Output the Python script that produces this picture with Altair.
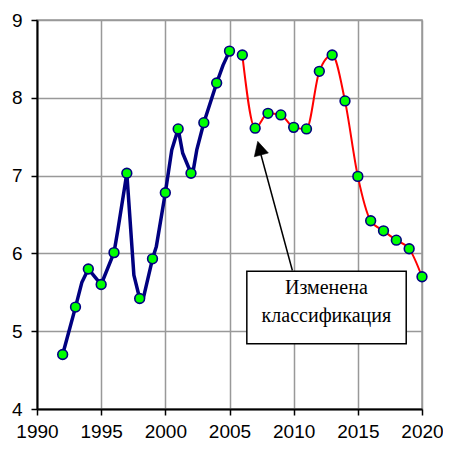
import altair as alt
import pandas as pd

# ---- data ----
blue_years = [1992, 1993, 1994, 1995, 1996, 1997, 1998, 1999, 2000, 2001, 2002, 2003, 2004, 2005]
blue_values = [4.70, 5.31, 5.80, 5.60, 6.01, 7.03, 5.42, 5.93, 6.78, 7.60, 7.03, 7.68, 8.19, 8.60]

# intermediate (unmarked) points on the blue line
blue_mid_years = [1993.5, 1996.3, 1997.55, 1998.25, 1999.3, 2000.5, 2001.35, 2002.2, 2002.45, 2004.5]
blue_mid_values = [5.63, 6.30, 5.72, 5.40, 6.09, 7.33, 7.29, 7.09, 7.33, 8.42]

red_years = [2006, 2007, 2008, 2009, 2010, 2011, 2012, 2013, 2014, 2015, 2016, 2017, 2018, 2019, 2020]
red_values = [8.55, 7.61, 7.80, 7.78, 7.62, 7.60, 8.34, 8.55, 7.96, 6.99, 6.42, 6.29, 6.17, 6.06, 5.70]

x_ticks = [1990, 1995, 2000, 2005, 2010, 2015, 2020]
y_ticks = [4, 5, 6, 7, 8, 9]

note_lines = ["Изменена", "классификация"]
note_line_x = [2012.55, 2012.55]
note_line_y = [5.555, 5.19]
note_box = {"x": 2006.35, "x2": 2018.77, "y": 5.77, "y2": 4.84}
arrow_tail = {"x": 2009.9, "y": 5.78}
arrow_tip = {"x": 2007.2, "y": 7.44}
arrow_stem_end = {"x": 2007.4, "y": 7.30}

# ---- tables ----
blue_line_df = pd.DataFrame({
    "year": blue_years + blue_mid_years,
    "value": blue_values + blue_mid_values,
}).sort_values("year")
blue_df = pd.DataFrame({"year": blue_years, "value": blue_values})
red_df = pd.DataFrame({"year": red_years, "value": red_values})
points_df = pd.concat([blue_df, red_df])
note_df = pd.DataFrame({"x": note_line_x, "y": note_line_y, "t": note_lines})
box_df = pd.DataFrame([note_box])
stem_df = pd.DataFrame([{"x": arrow_tail["x"], "y": arrow_tail["y"],
                         "x2": arrow_stem_end["x"], "y2": arrow_stem_end["y"]}])
tip_df = pd.DataFrame([arrow_tip])

xs = alt.Scale(domain=[1990, 2020], nice=False, zero=False)
ys = alt.Scale(domain=[4, 9], nice=False, zero=False)
xaxis = alt.Axis(values=x_ticks, format="d", title=None, labelFlush=False, labelOverlap=False)
yaxis = alt.Axis(values=y_ticks, format="d", title=None, labelFlush=False, labelOverlap=False)


def X(field):
    return alt.X(f"{field}:Q", scale=xs, axis=xaxis)


def Y(field):
    return alt.Y(f"{field}:Q", scale=ys, axis=yaxis)


box = alt.Chart(box_df).mark_rect(fill="white", stroke="black", strokeWidth=1.5).encode(
    x=X("x"), x2="x2", y=Y("y"), y2="y2"
)
note = alt.Chart(note_df).mark_text(
    font="Liberation Serif", fontSize=20, color="black", align="center", baseline="middle"
).encode(x=X("x"), y=Y("y"), text="t:N")
stem = alt.Chart(stem_df).mark_rule(color="black", strokeWidth=1.5).encode(
    x=X("x"), y=Y("y"), x2="x2", y2="y2"
)
tip = alt.Chart(tip_df).mark_point(
    shape="M0,0L-0.52,1L0.52,1Z", filled=True, fill="black", stroke="black",
    strokeWidth=0.5, opacity=1, size=784, angle=345
).encode(x=X("x"), y=Y("y"))

blue_line = alt.Chart(blue_line_df).mark_line(
    color="#000080", strokeWidth=3.5, interpolate="linear", strokeJoin="round"
).encode(x=X("year"), y=Y("value"))
red_line = alt.Chart(red_df).mark_line(
    color="#FF0000", strokeWidth=2, interpolate="monotone"
).encode(x=X("year"), y=Y("value"))
pts = alt.Chart(points_df).mark_point(
    shape="circle", filled=True, fill="#00FF00", stroke="#000080", strokeWidth=1.6,
    opacity=1, size=95
).encode(x=X("year"), y=Y("value"))

chart = alt.layer(box, note, stem, tip, blue_line, red_line, pts).properties(
    width=385, height=389,
    autosize=alt.AutoSizeParams(type="none"),
    padding={"left": 29, "top": 12, "right": 21, "bottom": 33},
).configure_view(
    stroke="#999999", strokeWidth=1.5
).configure_axis(
    grid=True, gridColor="#999999", gridWidth=1.5, gridOpacity=1,
    domainColor="black", domainWidth=2,
    tickColor="black", tickWidth=1.5, tickSize=6,
    labelFont="Liberation Sans", labelFontSize=19, labelColor="black",
).configure_axisX(labelPadding=7).configure_axisY(labelPadding=9)

chart.save("out.html", embed_options={"renderer": "svg", "actions": False})
